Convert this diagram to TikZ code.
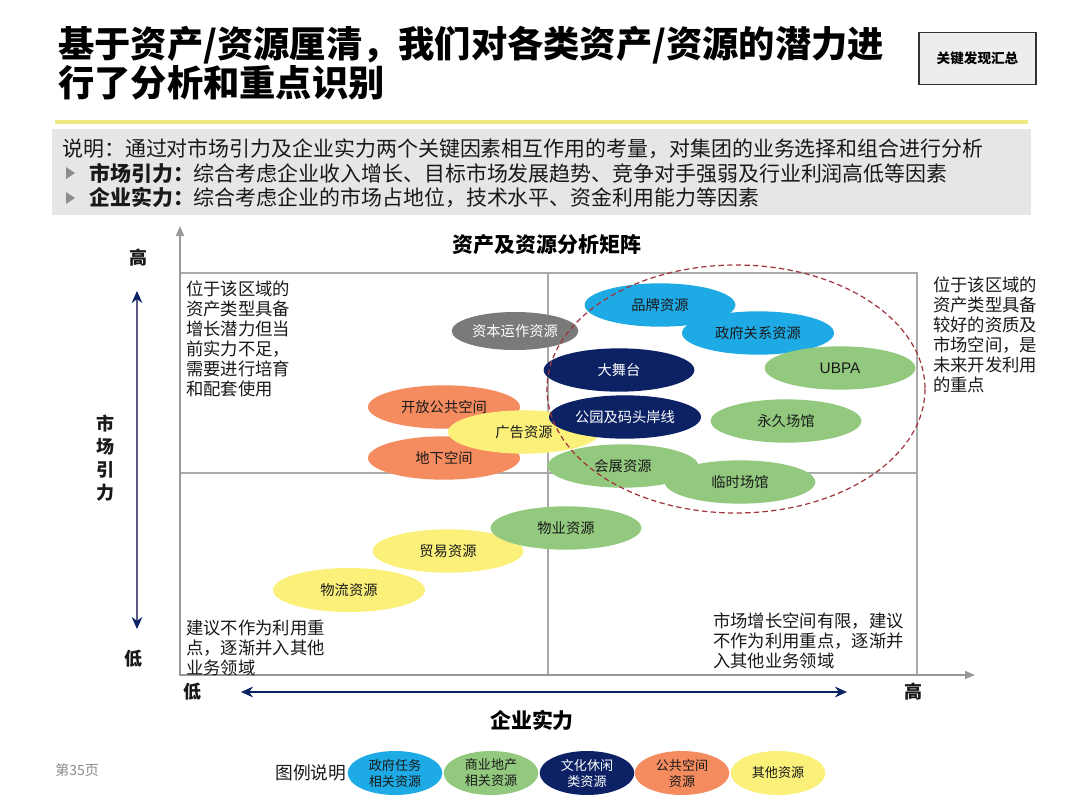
\documentclass[tikz,border=0pt]{standalone}
\usepackage{fontspec}
\setmainfont{Noto Sans CJK SC}
\newfontfamily\lat{Liberation Sans}
\usetikzlibrary{shapes.geometric,arrows.meta}
\definecolor{lblue}{RGB}{30,170,228}
\definecolor{lgreen}{RGB}{146,201,126}
\definecolor{navyc}{RGB}{12,34,100}
\definecolor{orng}{RGB}{245,140,96}
\definecolor{ylw}{RGB}{250,240,122}
\definecolor{gryc}{RGB}{122,122,122}
\definecolor{ruleyl}{RGB}{240,232,130}
\definecolor{descbg}{RGB}{230,230,230}
\definecolor{framec}{RGB}{170,170,170}
\definecolor{dashc}{RGB}{160,50,60}
\definecolor{txtc}{RGB}{25,25,25}
\tikzset{
  ell/.style={ellipse, inner sep=0pt, minimum width=113pt, minimum height=32.5pt,
    font=\fontsize{10.7}{12}\selectfont, text=txtc},
  dk/.style={text=white},
  leg/.style={ellipse, inner sep=0pt, minimum width=71pt, minimum height=33pt,
    font=\fontsize{9.8}{12}\selectfont, align=center, text=txtc},
  qtext/.style={anchor=north west, inner sep=0pt, align=left,
    font=\fontsize{13}{15}\selectfont, text=txtc},
  desc/.style={anchor=west, inner sep=0pt, font=\fontsize{15.7}{18}\selectfont, text=txtc},
  axlab/.style={inner sep=0pt, font=\fontsize{13.5}{15}\selectfont\bfseries, text=txtc},
  frame/.style={draw=framec, line width=1.2pt},
  axis/.style={draw=framec!90!black, line width=1.2pt, -{Triangle[length=7.5pt,width=6pt]}},
  titletext/.style={anchor=west, inner sep=0pt, font=\fontsize{27.2}{30}\selectfont\bfseries},
}
\begin{document}
\begin{tikzpicture}[x=0.75pt,y=-0.75pt]
\useasboundingbox (0,0) rectangle (1080,810);
\fill[white] (0,0) rectangle (1080,810);

% title
\node[titletext] (t1) at (58,45) {基于资产/资源厘清，我们对各类资产/资源的潜力进};
\node[titletext] (t2) at (58,83) {行了分析和重点识别};
\node[draw=black!80, line width=1.4pt, fill=black!7, minimum width=87.5pt, minimum height=39pt,
  font=\fontsize{10.2}{12}\selectfont\bfseries] (kf) at (977.5,58.5) {关键发现汇总};

\draw[ruleyl, line width=3pt] (55,122) -- (1028,122);
\fill[descbg] (52,129) rectangle (1031,215);
\node[desc] (d1) at (62,149) {说明：通过对市场引力及企业实力两个关键因素相互作用的考量，对集团的业务选择和组合进行分析};
\fill[black!45] (66,167) -- (75,173) -- (66,179) -- cycle;
\node[desc] (d2) at (89,173) {\textbf{市场引力：}综合考虑企业收入增长、目标市场发展趋势、竞争对手强弱及行业利润高低等因素};
\fill[black!45] (66,192) -- (75,198) -- (66,204) -- cycle;
\node[desc] (d3) at (89,198) {\textbf{企业实力：}综合考虑企业的市场占地位，技术水平、资金利用能力等因素};

% chart frame
\coordinate (O) at (180,675);
\coordinate (Ytop) at (180,226);
\coordinate (Xend) at (975,675);
\draw[frame] (180,273) rectangle (917,675);
\draw[frame] (548,273) -- (548,675);
\draw[frame] (180,473) -- (917,473);
\draw[axis] (O) -- (Ytop);
\draw[axis] (O) -- (Xend);

\node[inner sep=0pt, font=\fontsize{15.7}{18}\selectfont\bfseries] (mt) at (547,245) {资产及资源分析矩阵};

% axis labels and arrows
\node[axlab] (yh) at (138,258) {高};
\node[axlab] (yl) at (133,659) {低};
\node[axlab, align=center, font=\fontsize{13.5}{17.3}\selectfont\bfseries] (yt) at (105,458) {市\\场\\引\\力};
\coordinate (va) at (137,291);
\coordinate (vb) at (137,629);
\draw[draw=black!45!blue!30!gray, line width=1.3pt,
  {Stealth[length=9pt,width=8pt,color=navyc]}-{Stealth[length=9pt,width=8pt,color=navyc]}] (va) -- (vb);
\node[axlab] (xl) at (192,692) {低};
\node[axlab] (xh) at (913,692) {高};
\coordinate (ha) at (241,692);
\coordinate (hb) at (847,692);
\draw[draw=navyc, line width=1.6pt,
  {Stealth[length=9pt,width=8pt]}-{Stealth[length=9pt,width=8pt]}] (ha) -- (hb);
\node[inner sep=0pt, font=\fontsize{15.7}{18}\selectfont\bfseries] (xt) at (532,720) {企业实力};

% quadrant texts
\node[qtext] (q1) at (186,281) {位于该区域的\\资产类型具备\\增长潜力但当\\前实力不足，\\需要进行培育\\和配套使用};
\node[qtext] (q2) at (933,277) {位于该区域的\\资产类型具备\\较好的资质及\\市场空间，是\\未来开发利用\\的重点};
\node[qtext] (q3) at (186,620) {建议不作为利用重\\点，逐渐并入其他\\业务领域};
\node[qtext] (q4) at (713,613) {市场增长空间有限，建议\\不作为利用重点，逐渐并\\入其他业务领域};

% ellipses
\node[ell, fill=gryc, dk, minimum width=95pt, minimum height=28.5pt] (e1) at (515,331) {资本运作资源};
\node[ell, fill=lblue] (e2) at (660,305) {品牌资源};
\node[ell, fill=lblue, minimum width=114pt] (e3) at (758,333) {政府关系资源};
\node[ell, fill=navyc, dk] (e4) at (619,370) {大舞台};
\node[ell, fill=lgreen, font=\lat\fontsize{11.5}{13}\selectfont] (e5) at (840,368) {UBPA};
\node[ell, fill=orng, minimum width=114pt] (e6) at (444,407) {开放公共空间};
\node[ell, fill=orng, minimum width=114pt] (e7) at (444,458) {地下空间};
\node[ell, fill=ylw, minimum width=114pt] (e8) at (524,432) {广告资源};
\node[ell, fill=navyc, dk, minimum width=114pt] (e9) at (625,417) {公园及码头岸线};
\node[ell, fill=lgreen] (e10) at (786,421) {永久场馆};
\node[ell, fill=lgreen] (e11) at (623,466) {会展资源};
\node[ell, fill=lgreen] (e12) at (740,482) {临时场馆};
\node[ell, fill=ylw] (e13) at (448,551) {贸易资源};
\node[ell, fill=lgreen] (e14) at (566,528) {物业资源};
\node[ell, fill=ylw, minimum width=114pt, minimum height=33pt] (e15) at (349,590) {物流资源};

% focus region
\draw[dashc, line width=0.9pt, dash pattern=on 4pt off 2.5pt] (736,389) ellipse [x radius=189, y radius=124];

% footer / legend
\node[anchor=west, inner sep=0pt, text=black!45, font=\fontsize{10.5}{12}\selectfont] (pg) at (55,770) {第35页};
\node[anchor=west, inner sep=0pt, font=\fontsize{13.3}{15}\selectfont, text=txtc] (lg) at (275,773) {图例说明};
\node[leg, fill=lblue] (l1) at (395,773) {政府任务\\相关资源};
\node[leg, fill=lgreen] (l2) at (491,773) {商业地产\\相关资源};
\node[leg, fill=navyc, dk] (l3) at (587,773) {文化休闲\\类资源};
\node[leg, fill=orng] (l4) at (682,773) {公共空间\\资源};
\node[leg, fill=ylw] (l5) at (778,773) {其他资源};
\end{tikzpicture}
\end{document}
